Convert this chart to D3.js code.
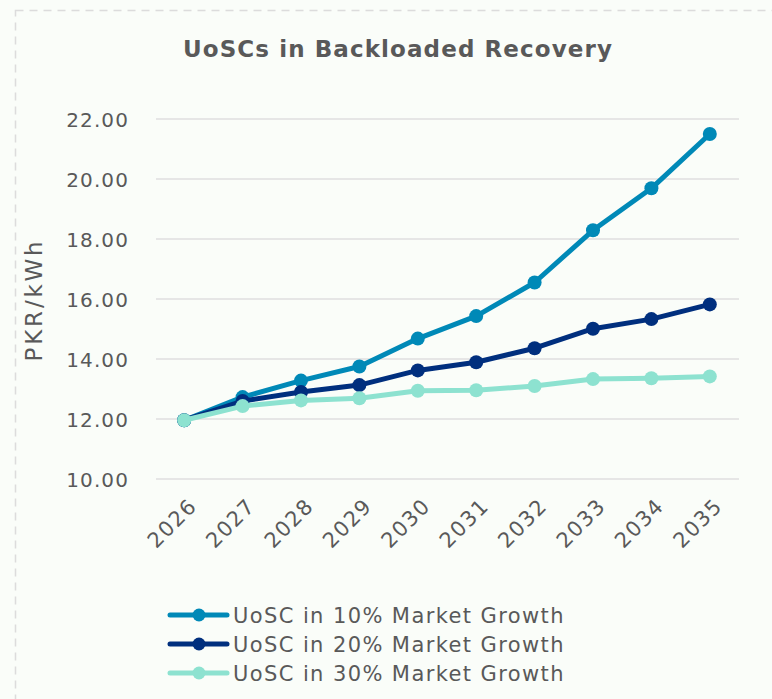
<!DOCTYPE html>
<html>
<head>
<meta charset="utf-8">
<script src="https://cdn.jsdelivr.net/npm/d3@7"></script>
<style>
  html, body { margin: 0; padding: 0; background: #fafdf9; }
  svg { display: block; }
  text { font-family: "DejaVu Sans", "Open Sans", sans-serif; fill: #595959; }
</style>
</head>
<body>
<svg id="chart" width="772" height="699"></svg>
<script>
// Unit cost of service (PKR/kWh) under backloaded recovery, by market growth scenario
const years = ["2026", "2027", "2028", "2029", "2030", "2031", "2032", "2033", "2034", "2035"];
const growth10 = [11.96, 12.73, 13.28, 13.75, 14.68, 15.43, 16.55, 18.29, 19.69, 21.50];
const growth20 = [11.96, 12.60, 12.90, 13.13, 13.62, 13.89, 14.36, 15.01, 15.33, 15.82];
const growth30 = [11.96, 12.43, 12.62, 12.69, 12.94, 12.96, 13.10, 13.33, 13.36, 13.42];
const seriesNames = ["UoSC in 10% Market Growth", "UoSC in 20% Market Growth", "UoSC in 30% Market Growth"];
const yTicks = [10, 12, 14, 16, 18, 20, 22];

const colors = ["#0089b7", "#002f7e", "#8de2d0"];
const series = [growth10, growth20, growth30].map((vals, i) => ({
  name: seriesNames[i],
  color: colors[i],
  values: vals.map((v, j) => ({ year: years[j], value: v }))
}));

const svg = d3.select("#chart");

// dashed frame
svg.append("rect")
  .attr("x", 15.5).attr("y", 10.5)
  .attr("width", 820).attr("height", 800)
  .attr("fill", "none")
  .attr("stroke", "#dcdcdc")
  .attr("stroke-width", 1.5)
  .attr("stroke-dasharray", "8,6");

const x = d3.scalePoint().domain(years).range([155, 739]).padding(0.5);
const y = d3.scaleLinear().domain([10, 22]).range([479, 119]);

// title
svg.append("text")
  .attr("x", 398).attr("y", 57)
  .attr("text-anchor", "middle")
  .style("font-size", "23px")
  .style("font-weight", "bold")
  .style("letter-spacing", "1.1px")
  .text("UoSCs in Backloaded Recovery");

// gridlines
svg.append("g")
  .selectAll("line")
  .data(yTicks)
  .join("line")
  .attr("x1", 156).attr("x2", 739)
  .attr("y1", d => y(d)).attr("y2", d => y(d))
  .attr("stroke", "#e6e6e6")
  .attr("stroke-width", 2);

// y axis
const yAxis = svg.append("g")
  .attr("transform", "translate(129,0)")
  .call(d3.axisLeft(y).tickValues(yTicks).tickFormat(d3.format(".2f")).tickSize(0).tickPadding(0));
yAxis.select(".domain").remove();
yAxis.selectAll("text")
  .style("font-size", "20px")
  .style("letter-spacing", "1.1px")
  .style("fill", "#595959")
  .attr("dy", "0.36em");

// x axis, labels slanted at 45 degrees
const xAxis = svg.append("g")
  .attr("transform", "translate(0,492)")
  .call(d3.axisBottom(x).tickSize(0).tickPadding(0));
xAxis.select(".domain").remove();
xAxis.selectAll("text")
  .style("font-size", "21px")
  .style("letter-spacing", "1.4px")
  .style("fill", "#595959")
  .attr("text-anchor", "end")
  .attr("dy", "0.7em")
  .attr("transform", "translate(3,5) rotate(-45)");

// y axis title
svg.append("text")
  .attr("transform", "translate(42,300) rotate(-90)")
  .attr("text-anchor", "middle")
  .style("font-size", "23px")
  .style("letter-spacing", "2.8px")
  .text("PKR/kWh");

// lines and markers
const line = d3.line().x(d => x(d.year)).y(d => y(d.value));
const groups = svg.append("g")
  .selectAll("g")
  .data(series)
  .join("g");
groups.append("path")
  .attr("d", d => line(d.values))
  .attr("fill", "none")
  .attr("stroke", d => d.color)
  .attr("stroke-width", 5)
  .attr("stroke-linejoin", "round");
groups.selectAll("circle")
  .data(d => d.values.map(v => ({ ...v, color: d.color })))
  .join("circle")
  .attr("cx", d => x(d.year))
  .attr("cy", d => y(d.value))
  .attr("r", 7)
  .attr("fill", d => d.color);

// legend
const legend = svg.append("g")
  .selectAll("g")
  .data(series)
  .join("g")
  .attr("transform", (d, i) => `translate(0,${615 + i * 29})`);
legend.append("line")
  .attr("x1", 170).attr("x2", 227)
  .attr("stroke", d => d.color)
  .attr("stroke-width", 5)
  .attr("stroke-linecap", "round");
legend.append("circle")
  .attr("cx", 199).attr("r", 6.5)
  .attr("fill", d => d.color);
legend.append("text")
  .attr("x", 233)
  .attr("dy", "0.36em")
  .style("font-size", "21px")
  .style("letter-spacing", "1.4px")
  .text(d => d.name);
</script>
</body>
</html>
